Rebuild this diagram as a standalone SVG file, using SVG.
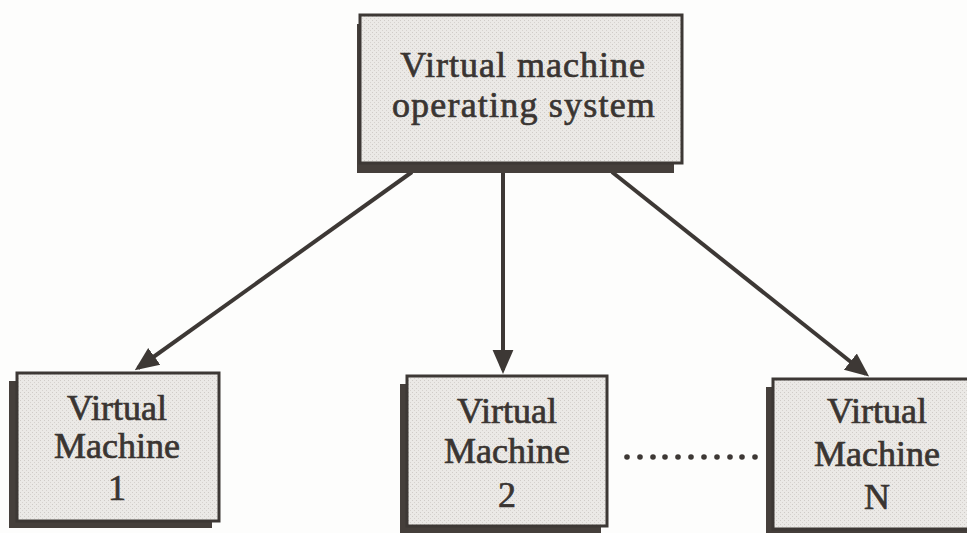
<svg xmlns="http://www.w3.org/2000/svg" width="967" height="533" viewBox="0 0 967 533">
<defs>
<pattern id="stip" width="4" height="4" patternUnits="userSpaceOnUse">
<rect width="4" height="4" fill="#ebe9e6"/>
<rect x="0" y="0" width="1" height="1" fill="#cfcbc7"/>
<rect x="2" y="2" width="1" height="1" fill="#d6d2ce"/>
</pattern>
<marker id="ah" markerWidth="6" markerHeight="6" refX="5" refY="3" orient="auto" markerUnits="strokeWidth">
<path d="M0,0.4 L6,3 L0,5.6 Z" fill="#3d3835"/>
</marker>
<style>
.sh{fill:#453f3b}
.bx{fill:url(#stip);stroke:#3d3835;stroke-width:3}
.t{font-family:"Liberation Serif","Times New Roman",serif;font-size:36px;fill:#3a3532;stroke:#3a3532;stroke-width:0.7;text-anchor:middle}
.c{stroke:#3d3835;stroke-width:4;fill:none;marker-end:url(#ah)}
</style>
</defs>
<rect width="967" height="533" fill="#fdfdfc"/>
<g id="connectors">
<line class="c" x1="412" y1="172" x2="138" y2="368"/>
<line class="c" x1="503" y1="173" x2="503" y2="370"/>
<line class="c" x1="612" y1="172" x2="866" y2="374"/>
<g fill="#3d3835">
<circle cx="627" cy="457" r="2.8"/><circle cx="640" cy="457" r="2.8"/><circle cx="653" cy="457" r="2.8"/><circle cx="665" cy="457" r="2.8"/><circle cx="678" cy="457" r="2.8"/><circle cx="691" cy="457" r="2.8"/><circle cx="704" cy="457" r="2.8"/><circle cx="717" cy="457" r="2.8"/><circle cx="730" cy="457" r="2.8"/><circle cx="742" cy="457" r="2.8"/><circle cx="755" cy="457" r="2.8"/>
</g>
</g>
<g id="vmos">
<rect class="sh" x="357" y="24" width="317" height="149"/>
<rect class="bx" x="360" y="15" width="322" height="148"/>
<text class="t" x="523" y="77" letter-spacing="1">Virtual machine</text>
<text class="t" x="524" y="117" letter-spacing="1.2">operating system</text>
</g>
<g id="vm1">
<rect class="sh" x="9" y="381" width="203" height="147"/>
<rect class="bx" x="17" y="373" width="202" height="148"/>
<text class="t" x="117" y="420">Virtual</text>
<text class="t" x="117" y="458">Machine</text>
<text class="t" x="117" y="500">1</text>
</g>
<g id="vm2">
<rect class="sh" x="400" y="384" width="201" height="149"/>
<rect class="bx" x="407" y="376" width="200" height="150"/>
<text class="t" x="507" y="423">Virtual</text>
<text class="t" x="507" y="463">Machine</text>
<text class="t" x="507" y="507">2</text>
</g>
<g id="vmN">
<rect class="sh" x="766" y="387" width="215" height="149"/>
<rect class="bx" x="773" y="379" width="215" height="150"/>
<text class="t" x="877" y="423">Virtual</text>
<text class="t" x="877" y="466">Machine</text>
<text class="t" x="877" y="509">N</text>
</g>
</svg>
